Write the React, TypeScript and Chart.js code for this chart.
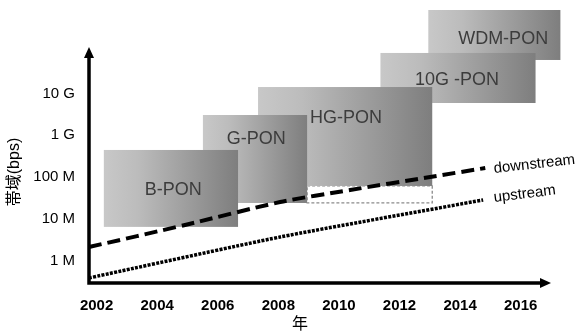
import React, { useEffect, useRef } from 'react';
import { Chart, registerables } from 'chart.js';

Chart.register(...registerables);

// ---- data ----
const xTicks = [2002, 2004, 2006, 2008, 2010, 2012, 2014, 2016];
const yTicks = [1, 10, 100, 1000, 10000]; // Mbps
const yTickLabels = ['1 M', '10 M', '100 M', '1 G', '10 G'];

const downYears = [2001.75, 2004.92, 2008.06, 2010.37, 2013.01, 2014.83];
const downMbps = [2.11, 7.1, 25.2, 48.9, 100, 164];
const upYears = [2001.75, 2008.06, 2014.76];
const upMbps = [0.384, 3.67, 28.2];

const ponNames = ['B-PON', 'G-PON', 'HG-PON', '10G -PON', 'WDM-PON'];
const ponStart = [2002.24, 2005.51, 2007.33, 2011.37, 2012.95];
const ponEnd = [2006.67, 2008.95, 2013.08, 2016.49, 2017.31];
const ponLow = [6.4, 23.9, 61, 5890, 63000];
const ponHigh = [443, 3040, 14200, 92700, 989000];
const ponLabelYear = [2004.53, 2007.27, 2010.23, 2013.9, 2015.42];
const ponLabelMbps = [48.9, 811, 2580, 20900, 200000];

// dashed extension below HG-PON
const extRange = [2008.95, 2013.08];
const extBw = [23.9, 61];

const FONT = '"Liberation Sans", Arial, "Noto Sans CJK JP", sans-serif';

const drawPlugin = {
  id: 'ponDiagram',
  beforeDatasetsDraw(chart: any) {
    const { ctx } = chart;
    const xs = chart.scales.x;
    const ys = chart.scales.y;
    ctx.save();
    {
      const x0 = xs.getPixelForValue(extRange[0]);
      const x1 = xs.getPixelForValue(extRange[1]);
      const y0 = ys.getPixelForValue(extBw[1]);
      const y1 = ys.getPixelForValue(extBw[0]);
      ctx.setLineDash([3, 2]);
      ctx.strokeStyle = '#8a8a8a';
      ctx.lineWidth = 1.3;
      ctx.strokeRect(x0, y0, x1 - x0, y1 - y0);
      ctx.setLineDash([]);
    }
    for (let i = ponNames.length - 1; i >= 0; i--) {
      const x0 = xs.getPixelForValue(ponStart[i]);
      const x1 = xs.getPixelForValue(ponEnd[i]);
      const y0 = ys.getPixelForValue(ponHigh[i]);
      const y1 = ys.getPixelForValue(ponLow[i]);
      const g = ctx.createLinearGradient(x0, 0, x1, 0);
      g.addColorStop(0, '#c8c8c8');
      g.addColorStop(0.25, '#bcbcbc');
      g.addColorStop(1, '#7e7e7e');
      ctx.fillStyle = g;
      ctx.fillRect(x0, y0, x1 - x0, y1 - y0);
      ctx.fillStyle = '#3c3c3c';
      ctx.font = '18px ' + FONT;
      ctx.textAlign = 'center';
      ctx.textBaseline = 'middle';
      ctx.fillText(ponNames[i], xs.getPixelForValue(ponLabelYear[i]), ys.getPixelForValue(ponLabelMbps[i]));
    }
    ctx.restore();
  },
  afterDatasetsDraw(chart: any) {
    const { ctx, chartArea } = chart;
    const xs = chart.scales.x;
    const ys = chart.scales.y;
    const { left, right, top, bottom } = chartArea;
    ctx.save();
    ctx.strokeStyle = '#000';
    ctx.fillStyle = '#000';
    ctx.lineWidth = 3.5;
    ctx.lineJoin = 'miter';
    ctx.beginPath();
    ctx.moveTo(left, top + 8);
    ctx.lineTo(left, bottom);
    ctx.lineTo(right - 8, bottom);
    ctx.stroke();
    ctx.beginPath();
    ctx.moveTo(left, top);
    ctx.lineTo(left - 5, top + 11);
    ctx.lineTo(left + 5, top + 11);
    ctx.closePath();
    ctx.fill();
    ctx.beginPath();
    ctx.moveTo(right, bottom);
    ctx.lineTo(right - 11, bottom - 5);
    ctx.lineTo(right - 11, bottom + 5);
    ctx.closePath();
    ctx.fill();
    ctx.font = '15px ' + FONT;
    ctx.textAlign = 'left';
    ctx.textBaseline = 'alphabetic';
    const dn = downYears.length - 1;
    ctx.save();
    ctx.translate(xs.getPixelForValue(downYears[dn]) + 9, ys.getPixelForValue(downMbps[dn]) + 5);
    ctx.rotate(-6.5 * Math.PI / 180);
    ctx.fillText('downstream', 0, 0);
    ctx.restore();
    const un = upYears.length - 1;
    ctx.save();
    ctx.translate(xs.getPixelForValue(upYears[un]) + 11, ys.getPixelForValue(upMbps[un]) + 2);
    ctx.rotate(-7 * Math.PI / 180);
    ctx.fillText('upstream', 0, 0);
    ctx.restore();
    ctx.font = '16px ' + FONT;
    ctx.textAlign = 'center';
    ctx.textBaseline = 'middle';
    ctx.save();
    ctx.translate(15, 172);
    ctx.rotate(-Math.PI / 2);
    ctx.fillText('帯域(bps)', 0, 0);
    ctx.restore();
    ctx.fillText('年', 300, 325);
    ctx.restore();
  },
};

export default function App() {
  const ref = useRef<HTMLCanvasElement>(null);
  useEffect(() => {
    document.body.style.margin = '0';
    const canvas = ref.current!;
    const chart = new Chart(canvas, {
      type: 'line',
      data: {
        datasets: [
          {
            label: 'downstream',
            data: downYears.map((x, i) => ({ x, y: downMbps[i] })),
            borderColor: '#000',
            borderWidth: 4,
            borderDash: [13, 6],
            pointRadius: 0,
            tension: 0.25,
            fill: false,
          },
          {
            label: 'upstream',
            data: upYears.map((x, i) => ({ x, y: upMbps[i] })),
            borderColor: '#000',
            borderWidth: 3.5,
            borderDash: [3, 1.3],
            pointRadius: 0,
            tension: 0.2,
            fill: false,
          },
        ],
      },
      options: {
        responsive: false,
        animation: false,
        clip: false as any,
        layout: { padding: { top: 47, right: 29, left: 0, bottom: 0 } },
        plugins: { legend: { display: false }, tooltip: { enabled: false } },
        scales: {
          x: {
            type: 'linear',
            min: 2001.75,
            max: 2017.0,
            bounds: 'data',
            grid: { display: false, drawTicks: false },
            border: { display: false },
            afterBuildTicks: (s: any) => { s.ticks = xTicks.map((v) => ({ value: v })); },
            afterFit: (s: any) => { s.height = 50; },
            ticks: {
              autoSkip: false,
              maxRotation: 0,
              padding: 14,
              color: '#000',
              font: { family: FONT, size: 15, weight: 'bold' },
              callback: (v: any) => String(v),
            },
          },
          y: {
            type: 'logarithmic',
            min: 0.291,
            max: 128800,
            bounds: 'data',
            grid: { display: false, drawTicks: false },
            border: { display: false },
            afterBuildTicks: (s: any) => { s.ticks = yTicks.map((v) => ({ value: v })); },
            afterFit: (s: any) => { s.width = 89; },
            ticks: {
              autoSkip: false,
              padding: 14,
              color: '#000',
              font: { family: FONT, size: 15 },
              callback: (v: any, i: number) => yTickLabels[i],
            },
          },
        },
      },
      plugins: [drawPlugin],
    });
    return () => chart.destroy();
  }, []);
  return <canvas ref={ref} width={580} height={333} style={{ display: 'block' }} />;
}
